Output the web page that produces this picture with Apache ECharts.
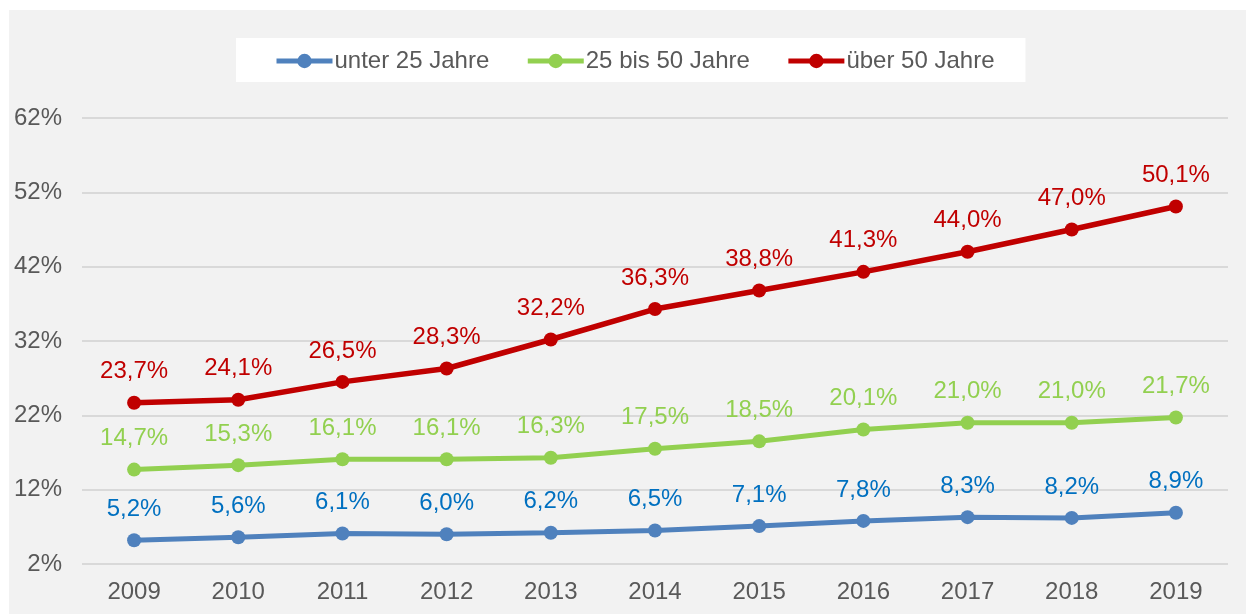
<!DOCTYPE html>
<html>
<head>
<meta charset="utf-8">
<script src="https://cdn.jsdelivr.net/npm/echarts@6/dist/echarts.min.js"></script>
<style>
html,body{margin:0;padding:0;background:#ffffff;}
#chart{position:absolute;left:9px;top:10px;width:1237px;height:604px;background:#f2f2f2;}
</style>
</head>
<body>
<div id="chart"></div>
<script>
const categories = ['2009','2010','2011','2012','2013','2014','2015','2016','2017','2018','2019'];
const under25 = [5.2, 5.6, 6.1, 6.0, 6.2, 6.5, 7.1, 7.8, 8.3, 8.2, 8.9];
const from25to50 = [14.7, 15.3, 16.1, 16.1, 16.3, 17.5, 18.5, 20.1, 21.0, 21.0, 21.7];
const over50 = [23.7, 24.1, 26.5, 28.3, 32.2, 36.3, 38.8, 41.3, 44.0, 47.0, 50.1];
const seriesNames = ['unter 25 Jahre', '25 bis 50 Jahre', 'über 50 Jahre'];

const fontFamily = 'Liberation Sans, Arial, sans-serif';
const fmt = v => v.toFixed(1).replace('.', ',') + '%';

function mkSeries(name, data, lineColor, labelColor, width) {
  return {
    name: name,
    type: 'line',
    data: data,
    symbol: 'circle',
    symbolSize: 14,
    lineStyle: { color: lineColor, width: width },
    itemStyle: { color: lineColor },
    label: {
      show: true,
      position: 'top',
      distance: 12,
      color: labelColor,
      fontSize: 24,
      fontFamily: fontFamily,
      formatter: p => fmt(p.value)
    },
    emphasis: { disabled: true },
    animation: false
  };
}

const chart = echarts.init(document.getElementById('chart'), null, { renderer: 'canvas' });
chart.setOption({
  backgroundColor: '#f2f2f2',
  animation: false,
  legend: {
    data: seriesNames,
    left: 227,
    top: 28,
    backgroundColor: '#ffffff',
    padding: [11, 31, 9, 38],
    itemWidth: 56,
    itemHeight: 18,
    itemGap: 36,
    lineStyle: { width: 5 },
    textStyle: { color: '#595959', fontSize: 24, fontFamily: fontFamily, padding: [0, 0, 0, -3] }
  },
  grid: { left: 73, top: 108, width: 1146, height: 446, containLabel: false },
  xAxis: {
    type: 'category',
    data: categories,
    boundaryGap: true,
    axisLine: { show: false },
    axisTick: { show: false },
    axisLabel: { color: '#595959', fontSize: 24, fontFamily: fontFamily, margin: 16 }
  },
  yAxis: {
    type: 'value',
    min: 2,
    max: 62,
    interval: 10,
    axisLine: { show: false },
    axisTick: { show: false },
    splitLine: { lineStyle: { color: '#d9d9d9', width: 2 } },
    axisLabel: { color: '#595959', fontSize: 24, fontFamily: fontFamily, margin: 20, formatter: v => v + '%' }
  },
  series: [
    mkSeries(seriesNames[0], under25, '#4f81bd', '#0070c0', 5),
    mkSeries(seriesNames[1], from25to50, '#92d050', '#92d050', 5),
    mkSeries(seriesNames[2], over50, '#c00000', '#c00000', 5.5)
  ]
});
</script>
</body>
</html>
